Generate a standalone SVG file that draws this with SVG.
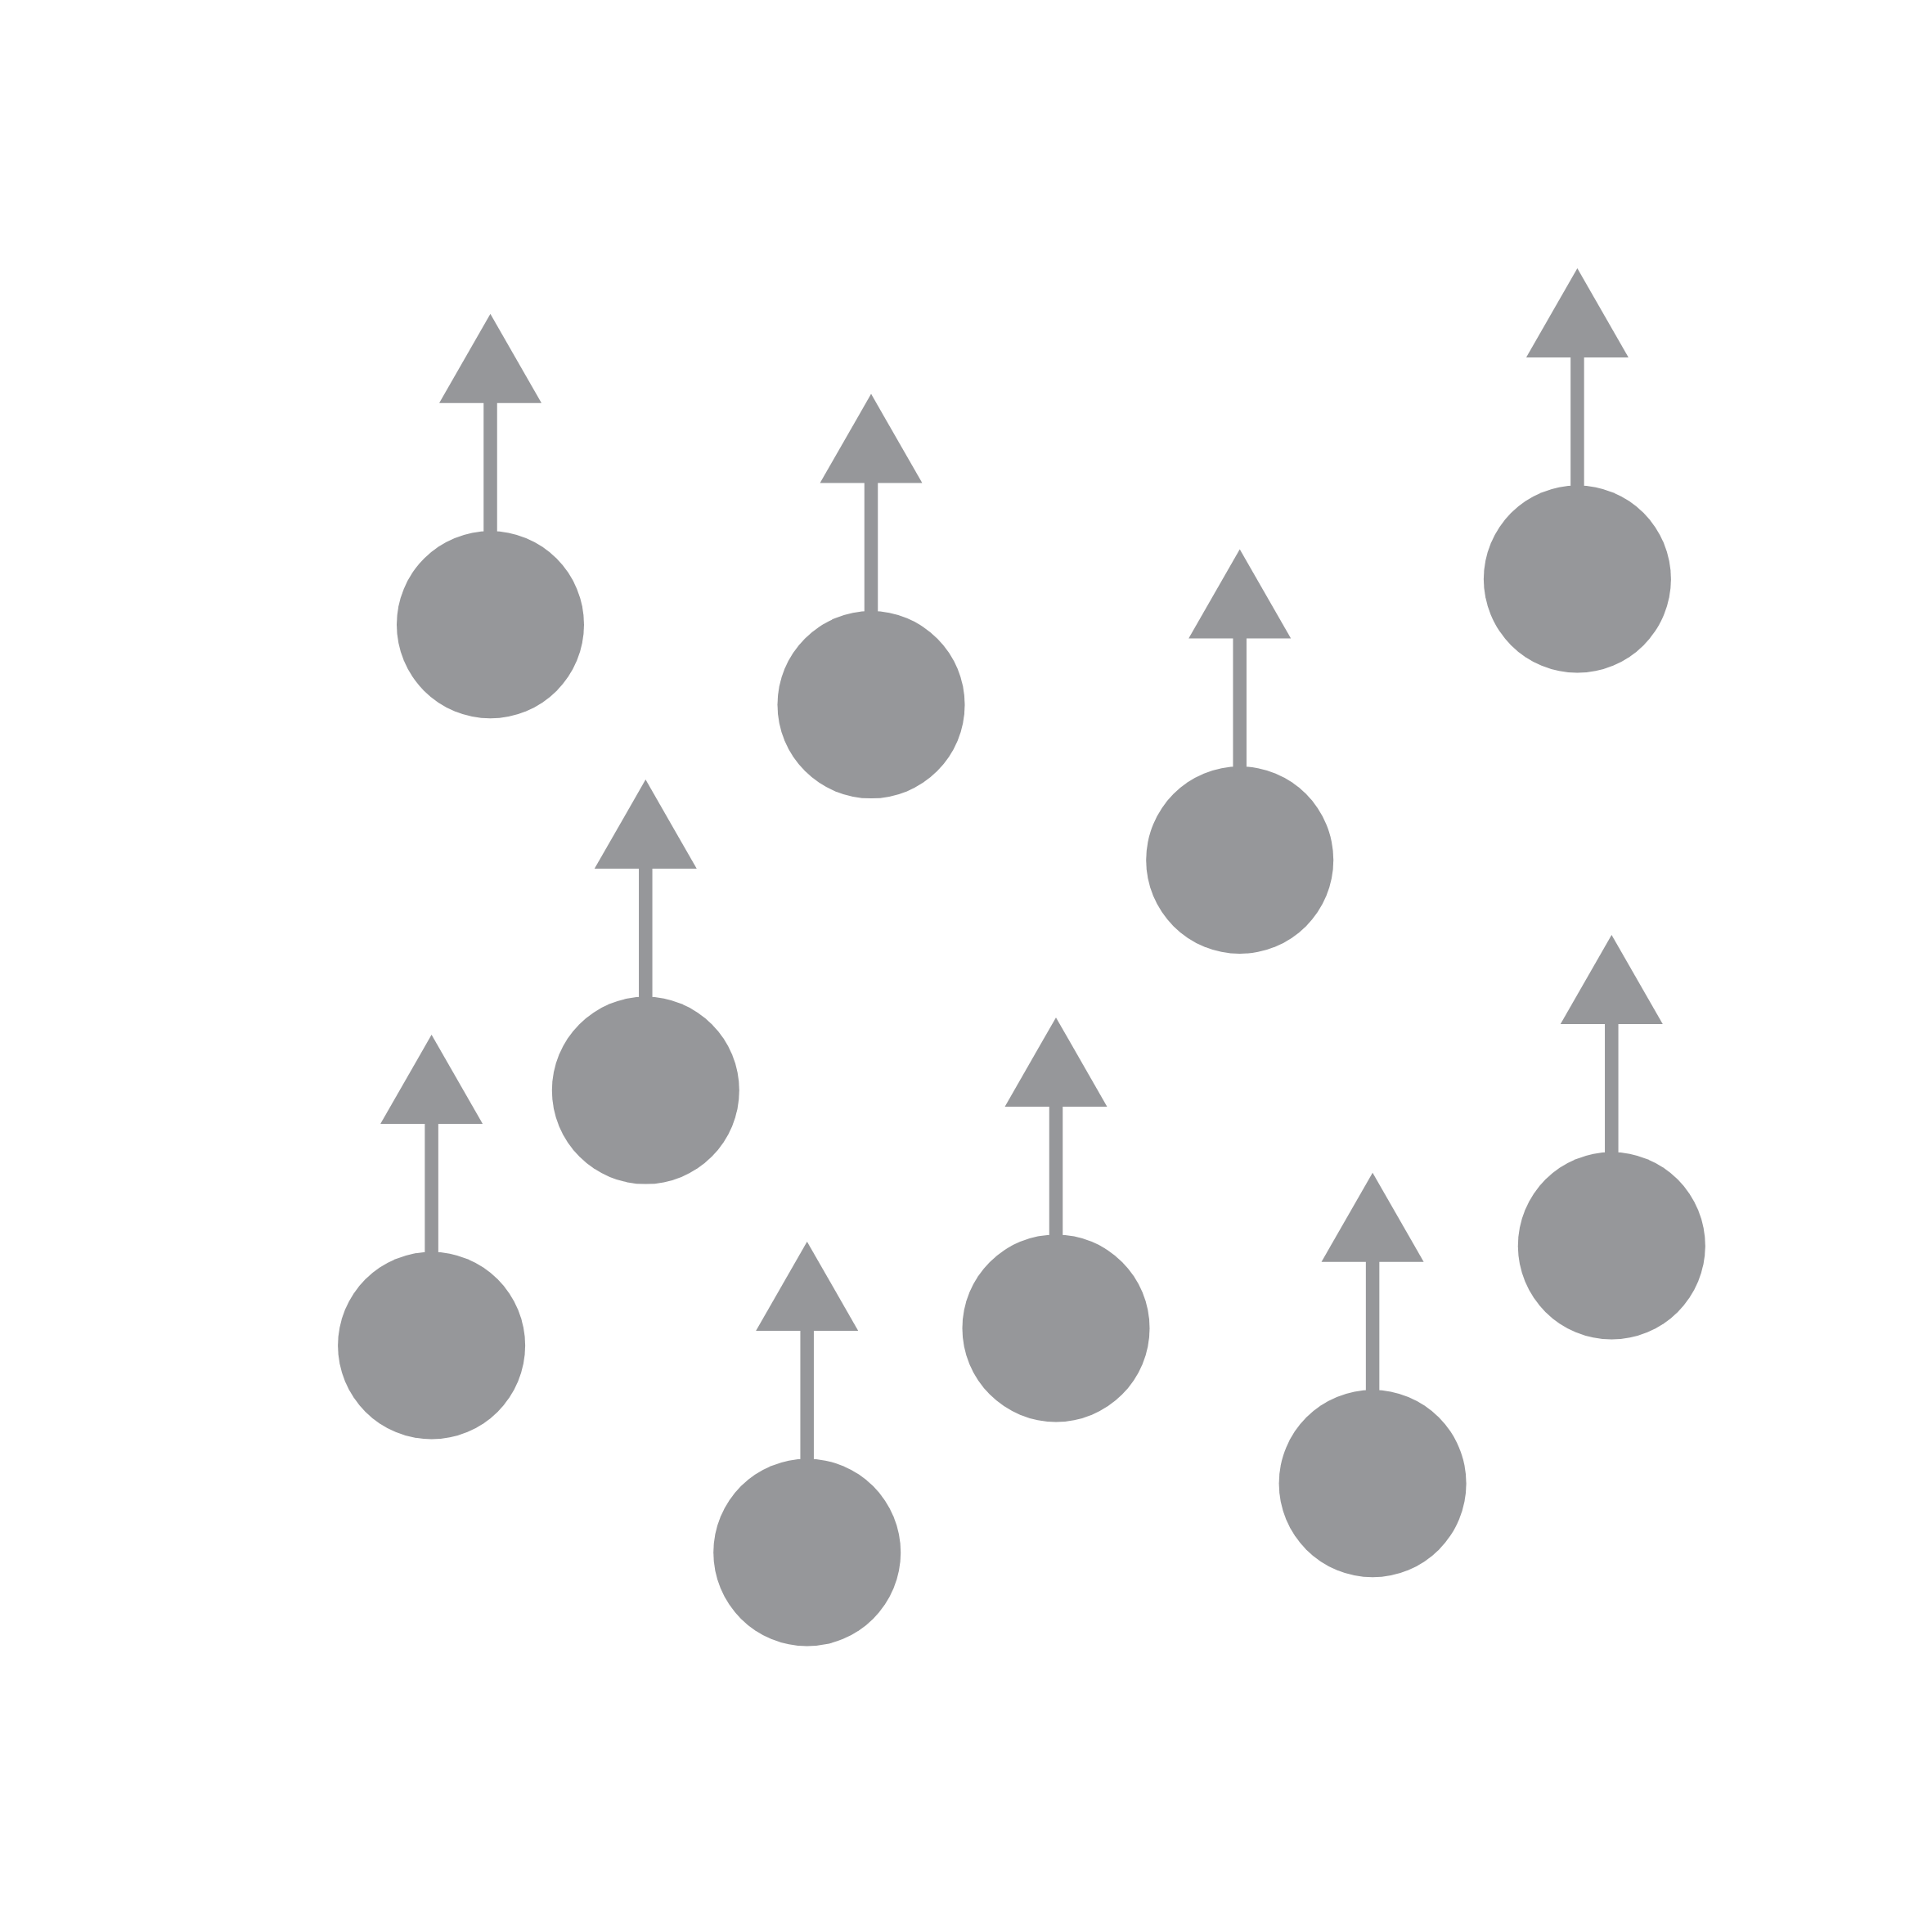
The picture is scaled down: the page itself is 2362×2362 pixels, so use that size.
<svg xmlns="http://www.w3.org/2000/svg" xmlns:xlink="http://www.w3.org/1999/xlink" width="2362" height="2362" viewBox="0 0 2362 2362">
<style>
.c{fill:#96979a}
.s{stroke:#96979a;stroke-width:16.5;fill:none}
</style>
<defs>
<g id="pin">
<circle class="c" cx="0" cy="0" r="114.5"/>
<line class="s" x1="0" y1="-110" x2="0" y2="-272"/>
<polygon class="c" points="0,-380 -62.5,-271 62.5,-271"/>
</g>
</defs>
<rect width="2362" height="2362" fill="#ffffff"/>
<g id="node1"><use xlink:href="#pin" href="#pin" x="599.5" y="763.7"/></g>
<g id="node2"><use xlink:href="#pin" href="#pin" x="1065" y="861.6"/></g>
<g id="node3"><use xlink:href="#pin" href="#pin" x="1515.7" y="1051.5"/></g>
<g id="node4"><use xlink:href="#pin" href="#pin" x="1928.4" y="708"/></g>
<g id="node5"><use xlink:href="#pin" href="#pin" x="789.3" y="1333.1"/></g>
<g id="node6"><use xlink:href="#pin" href="#pin" x="527.6" y="1645"/></g>
<g id="node7"><use xlink:href="#pin" href="#pin" x="986.7" y="1898"/></g>
<g id="node8"><use xlink:href="#pin" href="#pin" x="1291" y="1623.9"/></g>
<g id="node9"><use xlink:href="#pin" href="#pin" x="1678.1" y="1813.7"/></g>
<g id="node10"><use xlink:href="#pin" href="#pin" x="1970.3" y="1523"/></g>
<g id="connectors"/>
</svg>
